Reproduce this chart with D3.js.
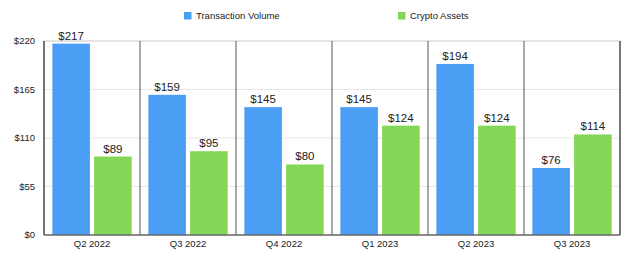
<!DOCTYPE html>
<html>
<head>
<meta charset="utf-8">
<script src="https://cdn.jsdelivr.net/npm/d3@7"></script>
<style>
  body { margin: 0; background: #fff; }
  text { font-family: "Liberation Sans", Arial, Helvetica, sans-serif; fill: #222; }
</style>
</head>
<body>
<div id="chart"></div>
<script>
// Data
var quarters = ["Q2 2022", "Q3 2022", "Q4 2022", "Q1 2023", "Q2 2023", "Q3 2023"];
var seriesNames = ["Transaction Volume", "Crypto Assets"];
var transactionVolume = [217, 159, 145, 145, 194, 76];
var cryptoAssets = [89, 95, 80, 124, 124, 114];
var yTicks = [0, 55, 110, 165, 220];

var colors = ["#4A9FF5", "#84D656"];

var svgWidth = 640;
var svgHeight = 263;
var margin = { top: 41, right: 20, bottom: 28, left: 44 };
var chartWidth = svgWidth - margin.left - margin.right;
var chartHeight = svgHeight - margin.top - margin.bottom;

var svg = d3.select("#chart")
  .append("svg")
  .attr("width", svgWidth)
  .attr("height", svgHeight);

var chartGroup = svg.append("g")
  .attr("transform", `translate(${margin.left}, ${margin.top})`);

var x0 = d3.scaleBand().domain(quarters).range([0, chartWidth]).paddingInner(0).paddingOuter(0);
var x1 = d3.scaleBand().domain(seriesNames).range([0, x0.bandwidth()]).paddingInner(0.1).paddingOuter(0.2);
var y = d3.scaleLinear().domain([0, 220]).range([chartHeight, 0]);

// Gridlines
chartGroup.selectAll(".grid")
  .data(yTicks.slice(1))
  .enter()
  .append("line")
  .attr("x1", 0)
  .attr("x2", chartWidth)
  .attr("y1", function(d) { return y(d); })
  .attr("y2", function(d) { return y(d); })
  .attr("stroke", function(d) { return d === 220 ? "#e4e4e4" : "#e6e6e6"; })
  .attr("stroke-width", function(d) { return d === 220 ? 2 : 1; });

// Y axis tick labels
chartGroup.selectAll(".ylab")
  .data(yTicks)
  .enter()
  .append("text")
  .attr("x", -9)
  .attr("y", function(d) { return y(d); })
  .attr("dy", "0.35em")
  .attr("text-anchor", "end")
  .attr("font-size", "9.5px")
  .text(function(d) { return "$" + d; });

var rows = quarters.map(function(q, i) {
  return { quarter: q, values: [transactionVolume[i], cryptoAssets[i]] };
});

var groups = chartGroup.selectAll(".group")
  .data(rows)
  .enter()
  .append("g")
  .attr("transform", function(d) { return `translate(${x0(d.quarter)}, 0)`; });

groups.selectAll("rect")
  .data(function(d) { return d.values.map(function(v, j) { return { name: seriesNames[j], value: v, idx: j }; }); })
  .enter()
  .append("rect")
  .attr("x", function(d) { return x1(d.name); })
  .attr("y", function(d) { return y(d.value); })
  .attr("width", x1.bandwidth())
  .attr("height", function(d) { return chartHeight - y(d.value); })
  .attr("fill", function(d) { return colors[d.idx]; });

groups.selectAll(".val")
  .data(function(d) { return d.values.map(function(v, j) { return { name: seriesNames[j], value: v }; }); })
  .enter()
  .append("text")
  .attr("x", function(d) { return x1(d.name) + x1.bandwidth() / 2; })
  .attr("y", function(d) { return y(d.value) - 4; })
  .attr("text-anchor", "middle")
  .attr("font-size", "11.5px")
  .text(function(d) { return "$" + d.value; });

// Vertical separators
chartGroup.selectAll(".sep")
  .data(quarters)
  .enter()
  .append("line")
  .attr("x1", function(d) { return x0(d); })
  .attr("x2", function(d) { return x0(d); })
  .attr("y1", 0)
  .attr("y2", chartHeight)
  .attr("stroke", function(d, i) { return i === 0 ? "#444" : "#555"; })
  .attr("stroke-width", function(d, i) { return i === 0 ? 1.5 : 1; });

chartGroup.append("line")
  .attr("x1", chartWidth).attr("x2", chartWidth)
  .attr("y1", 0).attr("y2", chartHeight)
  .attr("stroke", "#777").attr("stroke-width", 2);

// Bottom axis line
chartGroup.append("line")
  .attr("x1", 0).attr("x2", chartWidth)
  .attr("y1", chartHeight).attr("y2", chartHeight)
  .attr("stroke", "#666").attr("stroke-width", 1.5);

// X labels
chartGroup.selectAll(".xlab")
  .data(quarters)
  .enter()
  .append("text")
  .attr("x", function(d) { return x0(d) + x0.bandwidth() / 2; })
  .attr("y", chartHeight + 12)
  .attr("text-anchor", "middle")
  .attr("font-size", "9.5px")
  .text(function(d) { return d; });

// Legend
var legendX = [184, 398];
var legend = svg.selectAll(".legend")
  .data(seriesNames)
  .enter()
  .append("g")
  .attr("transform", function(d, i) { return `translate(${legendX[i]}, 12)`; });

legend.append("rect")
  .attr("width", 7.5)
  .attr("height", 7.5)
  .attr("fill", function(d, i) { return colors[i]; });

legend.append("text")
  .attr("x", 12)
  .attr("y", 4)
  .attr("dy", "0.35em")
  .attr("font-size", "9.5px")
  .text(function(d) { return d; });
</script>
</body>
</html>
